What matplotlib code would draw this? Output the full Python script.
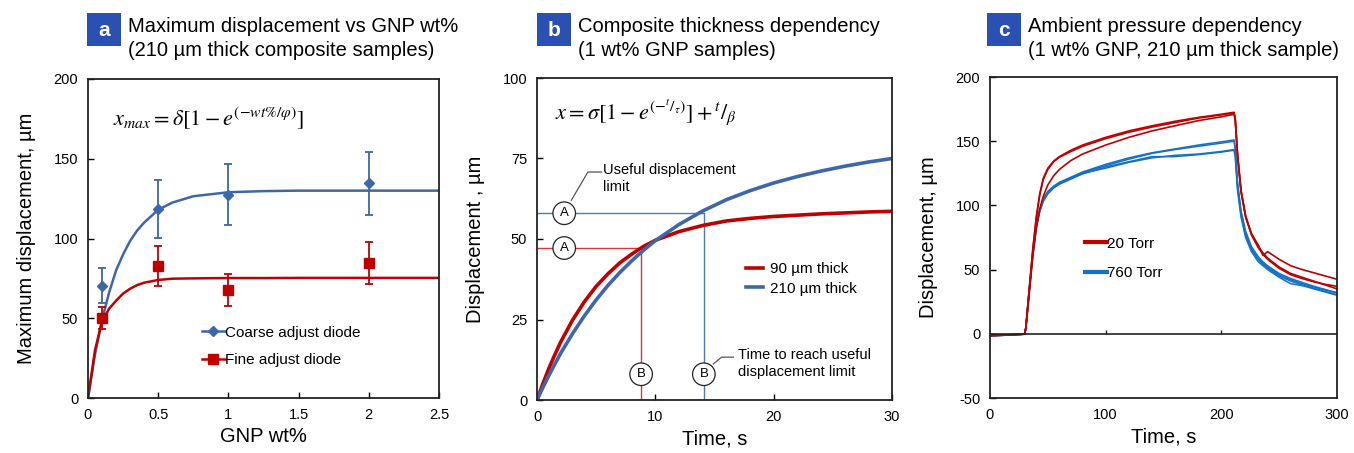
import matplotlib
matplotlib.use('Agg')
import matplotlib.pyplot as plt
from matplotlib.lines import Line2D
from matplotlib.patches import Rectangle

plt.rcParams['font.family'] = ['Liberation Sans', 'DejaVu Sans']
plt.rcParams['mathtext.fontset'] = 'stix'
plt.rcParams['axes.unicode_minus'] = False

RED = '#C00000'
BLUE_AB = '#3D67A8'
BLUE_C = '#1470C4'

# --- panel a: max displacement vs GNP wt% ---
gnp_wt = [0.1, 0.5, 1.0, 2.0]
coarse_y = [70.5, 118.5, 127.5, 134.5]
coarse_err = [11, 18, 19, 20]
fine_y = [50, 83, 67.5, 84.5]
fine_err = [7, 12.5, 10, 13]

fit_x = [0, 0.05, 0.1, 0.15, 0.2, 0.25, 0.3, 0.35, 0.4, 0.5, 0.6, 0.75, 1.0, 1.25, 1.5, 2.0, 2.5]
fit_coarse = [0, 27.5, 49, 66, 80, 90, 98.5, 105, 110, 118, 122.5, 126.5, 129, 129.7, 130, 130, 130]
fit_fine = [0, 30, 48, 56, 61, 65.5, 68.5, 70.8, 72.3, 74, 74.8, 75, 75.2, 75.2, 75.3, 75.3, 75.3]

# --- panel b: thickness dependency ---
t_b = [0, 0.5, 1, 1.5, 2, 3, 4, 5, 6, 7, 8, 9, 10, 12, 14, 16, 18, 20, 22, 24, 26, 28, 30]
thick_90 = [0, 5.1, 9.8, 14.0, 18.0, 24.8, 30.5, 35.3, 39.2, 42.6, 45.3, 47.7, 49.6, 52.3,
            54.2, 55.6, 56.4, 57.0, 57.4, 57.8, 58.1, 58.4, 58.6]
thick_210 = [0, 3.9, 7.6, 11.1, 14.5, 20.6, 26.1, 31.1, 35.6, 39.6, 43.2, 46.5, 49.5, 54.5,
             58.7, 62.2, 65.0, 67.4, 69.4, 71.1, 72.6, 73.9, 75.0]
limit_90 = (8.8, 47.2)
limit_210 = (14.1, 58.0)

# --- panel c: ambient pressure dependency ---
t_c = [0, 15, 30, 31, 34, 37, 40, 43, 46, 50, 55, 60, 70, 80, 100, 120, 140, 160, 180, 200,
       211, 212, 214, 217, 221, 226, 232, 236, 240, 250, 260, 270, 280, 290, 300]
torr20_run1 = [-1.5, -1.0, -0.3, 5, 35, 65, 90, 108, 120, 128, 134, 137.5, 142, 146, 152, 157, 161,
               164.5, 168, 170.5, 172, 168, 140, 112, 92, 78, 68, 63, 59, 52, 47, 44, 41, 38, 35]
torr20_run2 = [-1.4, -0.9, -0.2, 5, 36, 66, 91, 109, 121, 129, 134.5, 138, 143, 147, 153, 158, 162,
               165.5, 168.5, 171, 172.5, 167, 139, 111, 91, 78, 69, 61, 64, 58, 53, 50, 47.5, 45, 42.5]
torr20_run3 = [-1.2, -0.8, -0.2, 4, 32, 60, 82, 97, 107, 116, 123, 128, 135, 140, 147, 153, 158,
               162, 166, 169, 171, 167, 139, 111, 91, 77, 67, 62, 58, 51, 46, 43, 40.5, 38.5, 37]
torr760_run1 = [-1.5, -1.0, -0.3, 5, 35, 63, 84, 97, 105, 111, 115, 118, 122, 126, 132, 137, 141,
                144, 147, 149.5, 151, 145, 118, 96, 80, 68, 60, 56, 53, 47, 43, 40, 37, 34.5, 32]
torr760_run2 = [-1.6, -1.1, -0.4, 5, 34, 62, 83, 96, 104, 110, 114.5, 117.5, 121.5, 125.5, 131, 136,
                140.5, 143.5, 146, 148.5, 150, 144, 116, 94, 78, 66, 58, 54, 51, 45, 41, 38, 35.5, 33, 30.5]
torr760_run3 = [-1.4, -0.9, -0.3, 4, 33, 61, 82, 95, 103, 109, 113.5, 116.5, 120.5, 124.5, 130, 134,
                138, 138, 139.5, 141.5, 143, 138, 112, 91, 75, 64, 56, 53, 50, 44, 39, 37.5, 35, 32.5, 30]
torr760_run4 = [-1.5, -1.0, -0.3, 5, 35, 63, 84, 96, 104, 110, 114, 117, 121, 125, 129, 133.5, 137,
                139, 140, 142, 143.5, 140, 114, 93, 77, 66, 58, 55, 52, 46, 42, 39, 36.5, 34, 32]

W, H = 1354, 453
fig = plt.figure(figsize=(W / 100, H / 100), dpi=100)


def px_axes(left, top, right, bottom):
    return fig.add_axes([left / W, 1 - bottom / H, (right - left) / W, (bottom - top) / H])


def panel_title(letter, x_box, line1, line2):
    fig.add_artist(Rectangle((x_box / W, 1 - 46 / H), 34 / W, 33 / H, transform=fig.transFigure,
                             facecolor='#2B50B4', edgecolor='none'))
    fig.text((x_box + 17) / W, 1 - 30 / H, letter, color='white', fontsize=15, fontweight='bold',
             ha='center', va='center')
    fig.text((x_box + 41) / W, 1 - 26 / H, line1, fontsize=14.5, va='center', ha='left')
    fig.text((x_box + 41) / W, 1 - 51 / H, line2, fontsize=14.5, va='center', ha='left')


def style(ax):
    for s in ax.spines.values():
        s.set_linewidth(1.3)
        s.set_color('#222222')
    ax.tick_params(direction='in', length=4, width=1, labelsize=10.5, pad=7)


# panel a
ax1 = px_axes(88, 79, 439, 398)
ax1.plot(fit_x, fit_coarse, color=BLUE_AB, lw=1.8)
ax1.plot(fit_x, fit_fine, color=RED, lw=1.8)
ax1.errorbar(gnp_wt, coarse_y, yerr=coarse_err, fmt='D', color=BLUE_AB, ms=5.5, capsize=3,
             elinewidth=1.3, capthick=1.3)
ax1.errorbar(gnp_wt, fine_y, yerr=fine_err, fmt='s', color=RED, ms=6.5, capsize=3,
             elinewidth=1.3, capthick=1.3)
ax1.set_xlim(0, 2.5)
ax1.set_ylim(0, 200)
ax1.set_xticks([0, 0.5, 1, 1.5, 2, 2.5])
ax1.set_xticklabels(['0', '0.5', '1', '1.5', '2', '2.5'])
ax1.set_yticks([0, 50, 100, 150, 200])
ax1.set_xlabel('GNP wt%', fontsize=14.5)
ax1.set_ylabel('Maximum displacement, µm', fontsize=14.5, labelpad=13)
style(ax1)
ax1.text(0.07, 0.88, r'$x_{max} = \delta\left[1 - e^{\left(-wt\%/\varphi\right)}\right]$',
         transform=ax1.transAxes, fontsize=16, va='center')
handles_a = [Line2D([], [], color=BLUE_AB, lw=1.8, marker='D', ms=5.5),
             Line2D([], [], color=RED, lw=1.8, marker='s', ms=6.5)]
ax1.legend(handles_a, ['Coarse adjust diode', 'Fine adjust diode'], frameon=False, fontsize=11,
           loc='upper left', bbox_to_anchor=(0.285, 0.27), handlelength=1.5, handletextpad=0.05,
           labelspacing=0.9)
panel_title('a', 87, 'Maximum displacement vs GNP wt%', '(210 µm thick composite samples)')

# panel b
ax2 = px_axes(537, 78, 892, 400)
ax2.plot([0, limit_90[0]], [limit_90[1]] * 2, color='#D03A3A', lw=1)
ax2.plot([limit_90[0]] * 2, [0, limit_90[1]], color='#D03A3A', lw=1)
ax2.plot([0, limit_210[0]], [limit_210[1]] * 2, color='#4F78B5', lw=1)
ax2.plot([limit_210[0]] * 2, [0, limit_210[1]], color='#4F78B5', lw=1)
ax2.plot(t_b, thick_90, color=RED, lw=2.6, label='90 µm thick')
ax2.plot(t_b, thick_210, color=BLUE_AB, lw=2.6, label='210 µm thick')
ax2.set_xlim(0, 30)
ax2.set_ylim(0, 100)
ax2.set_xticks([0, 10, 20, 30])
ax2.set_yticks([0, 25, 50, 75, 100])
ax2.set_xlabel('Time, s', fontsize=14.5)
ax2.set_ylabel('Displacement , µm', fontsize=14.5, labelpad=13)
style(ax2)
ax2.text(0.05, 0.895, r'$x = \sigma\left[1 - e^{\left(-{}^{t}/_{\tau}\right)}\right] + {}^{t}/_{\beta}$',
         transform=ax2.transAxes, fontsize=16, va='center')
circ = dict(boxstyle='circle,pad=0.4', fc='white', ec='#222222', lw=0.9)
for cx, cy, lab in [(2.3, limit_210[1], 'A'), (2.3, limit_90[1], 'A'),
                    (limit_90[0], 8, 'B'), (limit_210[0], 8, 'B')]:
    ax2.text(cx, cy, lab, fontsize=9.5, ha='center', va='center', bbox=circ, zorder=5)
ax2.plot([2.9, 4.3, 5.45], [62.0, 70.8, 70.8], color='#555555', lw=0.9)
ax2.text(5.6, 73.5, 'Useful displacement\nlimit', fontsize=10.5, va='top', ha='left',
         linespacing=1.25)
ax2.plot([14.9, 15.6, 16.6], [11.2, 13.3, 13.3], color='#555555', lw=0.9)
ax2.text(17.0, 16.0, 'Time to reach useful\ndisplacement limit', fontsize=10.5, va='top',
         ha='left', linespacing=1.25)
ax2.legend(frameon=False, fontsize=11, loc='upper left', bbox_to_anchor=(0.55, 0.47),
           handlelength=1.1, handletextpad=0.5, labelspacing=0.35)
panel_title('b', 537, 'Composite thickness dependency', '(1 wt% GNP samples)')

# panel c
ax3 = px_axes(990, 77, 1337, 398)
for run in [torr760_run1, torr760_run2, torr760_run3, torr760_run4]:
    ax3.plot(t_c, run, color=BLUE_C, lw=1.1)
for run in [torr20_run1, torr20_run2, torr20_run3]:
    ax3.plot(t_c, run, color=RED, lw=1.2)
ax3.axhline(0, color='#222222', lw=1.2)
ax3.vlines([100, 200], 0, 3, color='#222222', lw=1)
ax3.set_xlim(0, 300)
ax3.set_ylim(-50, 200)
ax3.set_xticks([0, 100, 200, 300])
ax3.set_yticks([-50, 0, 50, 100, 150, 200])
ax3.set_xlabel('Time, s', fontsize=14.5)
ax3.set_ylabel('Displacement, µm', fontsize=14.5, labelpad=13)
style(ax3)
ax3.tick_params(axis='x', length=0)
handles_c = [Line2D([], [], color=RED, lw=3), Line2D([], [], color=BLUE_C, lw=3)]
ax3.legend(handles_c, ['20 Torr', '760 Torr'], frameon=False, fontsize=11, loc='upper left',
           bbox_to_anchor=(0.235, 0.545), handlelength=1.4, handletextpad=0.05, labelspacing=1.0)
panel_title('c', 987, 'Ambient pressure dependency', '(1 wt% GNP, 210 µm thick sample)')

fig.savefig('out.png', dpi=100)
